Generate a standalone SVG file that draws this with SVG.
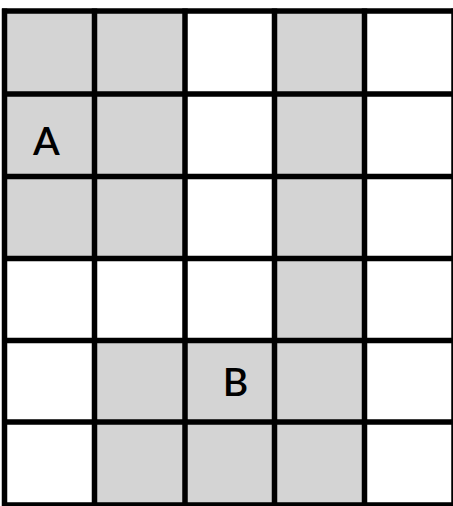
<svg xmlns="http://www.w3.org/2000/svg" width="453" height="506" viewBox="0 0 453 506">
<style>
.g{fill:#d4d4d4}
.ln{stroke:#000;stroke-width:5.5;fill:none}
.lb{font-family:Lato,"Liberation Sans",Arial,sans-serif;font-weight:600;font-size:39px;fill:#000;text-anchor:middle}
</style>
<rect width="453" height="506" fill="#fff"/>
<g id="cells">
<rect class="g" x="4.5" y="11" width="90" height="247.5"/>
<rect class="g" x="94.5" y="11" width="90.5" height="247.5"/>
<rect class="g" x="274.5" y="11" width="90" height="494"/>
<rect class="g" x="94.5" y="340.5" width="90.5" height="164.5"/>
<rect class="g" x="185" y="340.5" width="89.5" height="164.5"/>
</g>
<g id="grid">
<path class="ln" d="M4.5 8.5V506M94.5 8.5V506M185 8.5V506M274.5 8.5V506M364.5 8.5V506M454 8.5V506"/>
<path class="ln" d="M2 11H456M2 94H456M2 176.5H456M2 258.5H456M2 340.5H456M2 422H456M2 505H456"/>
</g>
<g id="labelA"><text class="lb" x="46.5" y="155">A</text></g>
<g id="labelB"><text class="lb" x="235.5" y="396">B</text></g>
</svg>
